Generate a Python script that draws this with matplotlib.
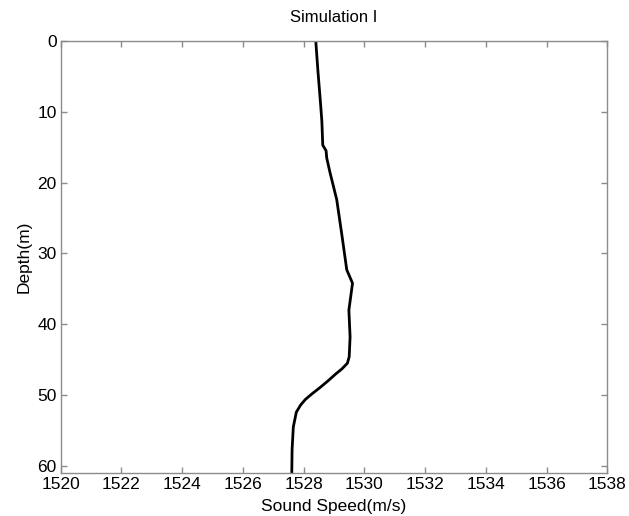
import matplotlib
matplotlib.use("Agg")
import matplotlib.pyplot as plt

plt.rcParams['font.family'] = ['Liberation Sans', 'DejaVu Sans']

# Sound speed profile (depth in m, speed in m/s)
depth = [0, 4.2, 9.0, 11.3, 14.7, 15.5, 16.5, 18.6, 22.4, 27.1, 32.3, 34.2,
         38.0, 41.8, 44.6, 45.5, 46.3, 47.0, 48.0, 49.0, 49.8, 50.6, 51.4,
         52.4, 54.5, 57.7, 61.0]
speed = [1528.40, 1528.47, 1528.56, 1528.60, 1528.63, 1528.74, 1528.76,
         1528.87, 1529.09, 1529.25, 1529.42, 1529.61, 1529.49, 1529.53,
         1529.50, 1529.44, 1529.26, 1529.06, 1528.80, 1528.52, 1528.28,
         1528.06, 1527.90, 1527.76, 1527.66, 1527.62, 1527.61]

xticks = list(range(1520, 1539, 2))
yticks = list(range(0, 61, 10))

fig = plt.figure(figsize=(6.29, 5.16), dpi=100)
ax = fig.add_axes([0.0965, 0.0833, 0.869, 0.8372])

ax.plot(speed, depth, color='black', linewidth=2.0)

ax.set_xlim(1520, 1538)
ax.set_ylim(61, 0)
ax.set_xticks(xticks)
ax.set_yticks(yticks)

spine_color = '#8c8c8c'
for s in ax.spines.values():
    s.set_color(spine_color)
    s.set_linewidth(1.0)
ax.tick_params(direction='in', length=4, width=1.0, color=spine_color,
               top=True, right=True, labelsize=12.5, pad=3)

ax.set_title('Simulation I', fontsize=12, pad=14)
ax.set_xlabel('Sound Speed(m/s)', fontsize=12.5, labelpad=5)
ax.set_ylabel('Depth(m)', fontsize=12.5, labelpad=4)

fig.savefig('out.png', dpi=100)
